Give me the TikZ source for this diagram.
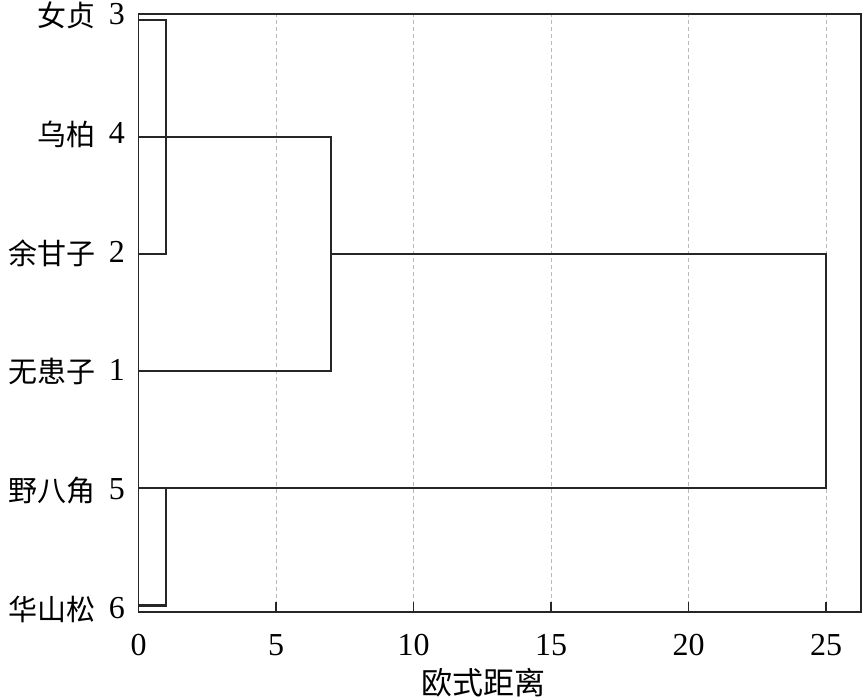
\documentclass[tikz,border=0pt]{standalone}
\usepackage{fontspec}
\setmainfont{Liberation Serif}
\newfontfamily\cjk{Noto Sans CJK SC}
\newcommand{\zh}[1]{\raisebox{-2pt}{\cjk\fontsize{29}{29}\selectfont #1}}
\begin{document}
\begin{tikzpicture}[x=1pt,y=-1pt,
  frame/.style={line width=1.3pt,black!85},
  gridline/.style={line width=0.9pt,gray!55,dash pattern=on 4pt off 3pt},
  tickmark/.style={line width=1.3pt,black!85},
  link/.style={line width=1.4pt,black!85},
  bracket/.style={line width=2.3pt,black!85},
  leaflabel/.style={anchor=base east,inner sep=0pt,font=\fontsize{32}{32}\selectfont},
  ticklabel/.style={anchor=base,inner sep=0pt,font=\fontsize{32}{32}\selectfont},
  axislabel/.style={anchor=center,inner sep=0pt,font=\cjk\fontsize{31}{31}\selectfont}]
\useasboundingbox (0,0) rectangle (867,700);
\def\xo{138.5}
\def\ux{27.5}
% grid
\foreach \v in {5,10,15,20,25}{
  \coordinate (gb\v) at ({\xo+\v*\ux},612);
  \coordinate (gt\v) at ({\xo+\v*\ux},14);
  \draw[gridline] (gb\v) -- (gt\v);
}
% frame
\coordinate (fbl) at (\xo,612);
\coordinate (ftr) at (861,14);
\draw[frame] (fbl) rectangle (ftr);
% ticks and tick labels
\foreach \v in {0,5,10,15,20,25}{
  \coordinate (tb\v) at ({\xo+\v*\ux},612);
  \coordinate (tt\v) at ({\xo+\v*\ux},602);
  \draw[tickmark] (tb\v) -- (tt\v);
  \node[ticklabel] (tl\v) at ({\xo+\v*\ux},655) {\v};
}
\node[axislabel] (xlab) at (483,683) {欧式距离};
% leaf points
\coordinate (l3) at (\xo,20);
\coordinate (l4) at (\xo,137);
\coordinate (l2) at (\xo,254);
\coordinate (l1) at (\xo,371);
\coordinate (l5) at (\xo,488);
\coordinate (l6) at (\xo,605.5);
% merge corners
\coordinate (a3) at (166,20);
\coordinate (a2) at (166,254);
\coordinate (b4) at (331,137);
\coordinate (b1) at (331,371);
\coordinate (c2) at (331,254);
\coordinate (c25) at (826,254);
\coordinate (c5) at (826,488);
\coordinate (d5) at (166,488);
\coordinate (d6) at (166,605.5);
% dendrogram
\draw[bracket] (l3) -- (a3) -- (a2) -- (l2);
\draw[link] (l4) -- (b4) -- (b1) -- (l1);
\draw[link] (c2) -- (c25) -- (c5) -- (l5);
\draw[bracket] (d5) -- (d6) -- (l6);
% leaf labels
\node[leaflabel] (n3) at (125,25) {\zh{女贞}\hspace{13pt}3};
\node[leaflabel] (n4) at (125,143.6) {\zh{乌柏}\hspace{13pt}4};
\node[leaflabel] (n2) at (125,262.2) {\zh{余甘子}\hspace{13pt}2};
\node[leaflabel] (n1) at (125,380.8) {\zh{无患子}\hspace{13pt}1};
\node[leaflabel] (n5) at (125,499.4) {\zh{野八角}\hspace{13pt}5};
\node[leaflabel] (n6) at (125,618) {\zh{华山松}\hspace{13pt}6};
\end{tikzpicture}
\end{document}
